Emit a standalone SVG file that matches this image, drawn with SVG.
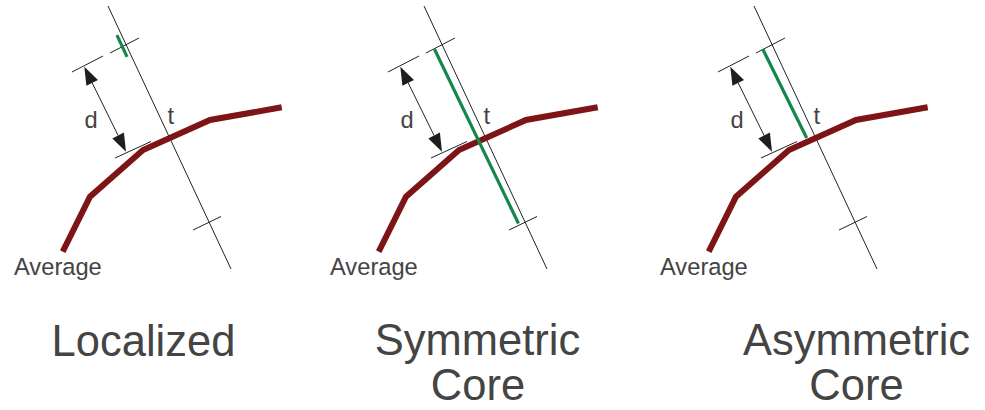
<svg xmlns="http://www.w3.org/2000/svg" width="985" height="410" viewBox="0 0 985 410">
<defs>
<style>
.thin{stroke:#222;stroke-width:1;fill:none}
.avg{stroke:#7d1416;stroke-width:6;fill:none;stroke-linejoin:miter}
.core{stroke:#15874a;stroke-width:3.2;fill:none}
.head{fill:#1e1e1e;stroke:none}
.lbl{font-family:"Liberation Sans",Arial,sans-serif;font-size:23.7px;fill:#444}
.ttl{font-family:"Liberation Sans",Arial,sans-serif;font-size:43.5px;fill:#444;text-anchor:middle}
</style>
<g id="base">
<line class="thin" x1="108" y1="6" x2="231" y2="269"/>
<line class="thin" x1="110" y1="53" x2="139" y2="38"/>
<line class="thin" x1="193" y1="230" x2="221" y2="216.5"/>
<line class="thin" x1="72" y1="72" x2="103" y2="56"/>
<line class="thin" x1="115" y1="158" x2="151" y2="141.5"/>
<line class="thin" x1="92.2" y1="82.9" x2="118.1" y2="135.5"/>
<polygon class="head" points="84.3,66.7 98,80 86.4,85.8"/>
<polygon class="head" points="126,151.7 123.9,132.6 112.3,138.4"/>
<polyline class="avg" points="62.7,251.7 90,196.7 143,150 210,120 281.7,107.3"/>
<text class="lbl" x="91" y="128" text-anchor="middle">d</text>
<text class="lbl" x="167.5" y="123.5">t</text>
<text class="lbl" x="14" y="275">Average</text>
</g>
</defs>
<g id="localized">
<use href="#base"/>
<line class="core" x1="116.9" y1="35.1" x2="127.1" y2="56.9"/>
<text class="ttl" x="143.5" y="356">Localized</text>
</g>
<g id="symmetric-core">
<use href="#base" transform="translate(316,0)"/>
<line class="core" x1="434.5" y1="49.3" x2="518.5" y2="223.5"/>
<text class="ttl" x="477.5" y="355">Symmetric</text>
<text class="ttl" x="478" y="400">Core</text>
</g>
<g id="asymmetric-core">
<use href="#base" transform="translate(646,0)"/>
<line class="core" x1="762.7" y1="49" x2="806.7" y2="138"/>
<text class="ttl" x="856.5" y="355">Asymmetric</text>
<text class="ttl" x="856.5" y="400">Core</text>
</g>
</svg>
